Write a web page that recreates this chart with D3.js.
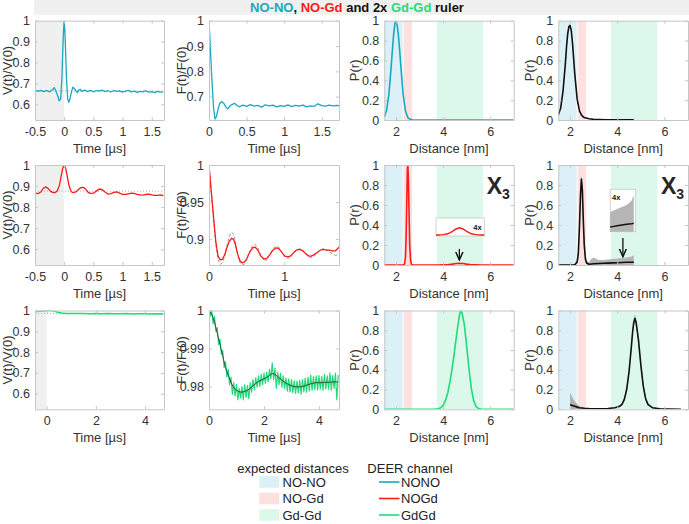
<!DOCTYPE html>
<html><head><meta charset="utf-8">
<script src="https://cdn.jsdelivr.net/npm/d3@7"></script>
<style>body{margin:0;background:#fff;} svg text{font-family:"Liberation Sans",Arial,sans-serif;}</style>
</head><body><svg id="c" width="689" height="524"></svg>
<script>
// ---------------- DATA ----------------
const channelNames = ["NONO","NOGd","GdGd"];
const channelColors = ["#17a9c1","#ff1a1a","#1fdc78"];
const bandNames = ["NO-NO","NO-Gd","Gd-Gd"];
const bandLo = [1.5, 2.32, 3.73];
const bandHi = [2.28, 2.68, 5.7];
const bandColors = ["#dcf1f7","#fde0e0","#dcf8ea"];
const vBaseline = [0.664, 0.876, 0.985];

// NONO V(t)
const tV1 = [-0.5,-0.45,-0.4,-0.35,-0.3,-0.25,-0.2,-0.17,-0.14,-0.11,-0.085,-0.06,-0.04,-0.025,-0.01,0,0.01,0.025,0.04,0.06,0.08,0.1,0.125,0.15,0.175,0.2,0.225,0.25,0.275,0.3,0.35,0.4,0.45,0.5,0.55,0.6,0.65,0.7,0.75,0.8,0.85,0.9,0.95,1.0,1.05,1.1,1.15,1.2,1.25,1.3,1.35,1.4,1.45,1.5,1.55,1.6,1.65,1.7];
const vV1 = [0.668,0.662,0.667,0.661,0.666,0.660,0.670,0.680,0.662,0.640,0.617,0.625,0.72,0.85,0.96,1.0,0.96,0.85,0.72,0.625,0.610,0.628,0.66,0.682,0.676,0.664,0.656,0.668,0.672,0.662,0.668,0.661,0.667,0.660,0.666,0.663,0.668,0.661,0.665,0.659,0.666,0.662,0.664,0.658,0.663,0.667,0.659,0.663,0.657,0.662,0.66,0.665,0.658,0.661,0.656,0.662,0.658,0.660];
// NONO F(t)
const tF1 = [0,0.02,0.04,0.06,0.08,0.1,0.12,0.14,0.17,0.2,0.225,0.25,0.275,0.3,0.34,0.37,0.4,0.45,0.5,0.55,0.6,0.65,0.7,0.75,0.8,0.85,0.9,0.95,1.0,1.05,1.1,1.15,1.2,1.25,1.3,1.35,1.4,1.45,1.5,1.55,1.6,1.65,1.7,1.73];
const vF1 = [1.0,0.88,0.76,0.66,0.612,0.622,0.65,0.672,0.681,0.672,0.66,0.652,0.662,0.668,0.674,0.666,0.660,0.667,0.662,0.669,0.663,0.666,0.659,0.668,0.664,0.667,0.660,0.665,0.662,0.668,0.661,0.666,0.663,0.667,0.660,0.664,0.662,0.672,0.665,0.663,0.667,0.664,0.666,0.665];
// NOGd V(t)
const tV2 = [-0.5,-0.45,-0.4,-0.36,-0.32,-0.28,-0.24,-0.2,-0.16,-0.12,-0.08,-0.05,-0.025,0,0.025,0.05,0.08,0.12,0.155,0.2,0.24,0.28,0.325,0.37,0.41,0.45,0.5,0.55,0.6,0.65,0.7,0.75,0.8,0.85,0.9,0.95,1.0,1.05,1.1,1.15,1.2,1.25,1.3,1.35,1.4,1.45,1.5,1.55,1.6,1.65,1.7];
const vV2 = [0.866,0.864,0.872,0.888,0.896,0.890,0.877,0.870,0.869,0.876,0.905,0.95,0.985,1.0,0.985,0.95,0.905,0.873,0.869,0.872,0.883,0.892,0.894,0.885,0.870,0.865,0.866,0.876,0.886,0.883,0.872,0.862,0.864,0.870,0.872,0.866,0.86,0.86,0.863,0.866,0.865,0.86,0.858,0.857,0.86,0.862,0.858,0.856,0.856,0.858,0.854];
// NOGd F(t) and fit
const tF2 = [0,0.03,0.06,0.09,0.12,0.15,0.18,0.21,0.24,0.27,0.3,0.325,0.35,0.38,0.41,0.44,0.47,0.5,0.54,0.58,0.615,0.65,0.69,0.73,0.77,0.81,0.85,0.89,0.93,0.97,1.01,1.05,1.08,1.12,1.16,1.21,1.25,1.29,1.33,1.36,1.4,1.44,1.48,1.52,1.56,1.6,1.64,1.68,1.72,1.73];
const vF2 = [1.0,0.965,0.93,0.897,0.877,0.872,0.873,0.879,0.889,0.897,0.901,0.900,0.893,0.880,0.871,0.868,0.869,0.873,0.882,0.888,0.889,0.885,0.877,0.873,0.874,0.879,0.885,0.888,0.887,0.882,0.877,0.876,0.877,0.881,0.885,0.886,0.884,0.880,0.877,0.877,0.879,0.882,0.885,0.886,0.885,0.885,0.884,0.884,0.888,0.889];
const fitF2 = [1.0,0.963,0.927,0.893,0.872,0.866,0.868,0.877,0.892,0.904,0.909,0.907,0.897,0.880,0.869,0.865,0.866,0.871,0.883,0.891,0.893,0.888,0.878,0.871,0.872,0.879,0.887,0.890,0.889,0.882,0.876,0.874,0.875,0.880,0.885,0.887,0.885,0.880,0.876,0.875,0.877,0.881,0.885,0.887,0.886,0.883,0.880,0.878,0.879,0.880];
// GdGd V(t)
const tV3 = [-0.48,-0.3,-0.15,0,0.1,0.2,0.3,0.45,0.6,0.8,1.0,1.25,1.5,1.75,2.0,2.25,2.5,2.75,3.0,3.25,3.5,3.75,4.0,4.25,4.5,4.75];
const vV3 = [0.994,0.996,0.998,1.0,1.001,1.0,0.997,0.992,0.988,0.986,0.985,0.986,0.985,0.984,0.985,0.984,0.985,0.984,0.984,0.985,0.983,0.984,0.984,0.983,0.984,0.983];
// GdGd F(t) data and fit
const tF3 = [0,0.05,0.1,0.15,0.2,0.25,0.3,0.35,0.4,0.45,0.5,0.55,0.6,0.65,0.7,0.75,0.8,0.85,0.9,0.95,1,1.05,1.1,1.15,1.2,1.25,1.3,1.35,1.4,1.45,1.5,1.55,1.6,1.65,1.7,1.75,1.8,1.85,1.9,1.95,2,2.05,2.1,2.15,2.2,2.25,2.3,2.35,2.4,2.45,2.5,2.55,2.6,2.65,2.7,2.75,2.8,2.85,2.9,2.95,3,3.05,3.1,3.15,3.2,3.25,3.3,3.35,3.4,3.45,3.5,3.55,3.6,3.65,3.7,3.75,3.8,3.85,3.9,3.95,4,4.05,4.1,4.15,4.2,4.25,4.3,4.35,4.4,4.45,4.5,4.55,4.6,4.65,4.7];
const vF3 = [1.0005,0.9985,1.0,0.9965,0.9985,0.9945,0.9955,0.991,0.9925,0.9885,0.9895,0.985,0.9865,0.9825,0.9845,0.9805,0.9825,0.978,0.981,0.9775,0.9805,0.9765,0.9795,0.977,0.98,0.9765,0.9805,0.9772,0.9803,0.9768,0.981,0.9785,0.9818,0.9792,0.9823,0.9798,0.9828,0.98,0.9832,0.9805,0.9835,0.9808,0.9838,0.9812,0.9845,0.982,0.9862,0.9818,0.9848,0.9795,0.9838,0.9805,0.9835,0.9798,0.9828,0.9795,0.9822,0.9788,0.982,0.9786,0.9818,0.9784,0.9815,0.9782,0.9814,0.9783,0.9816,0.978,0.9818,0.9786,0.9822,0.9785,0.9825,0.9788,0.983,0.979,0.9826,0.9792,0.9828,0.9791,0.9829,0.9793,0.9826,0.979,0.9832,0.9794,0.9828,0.9793,0.9836,0.979,0.9829,0.9795,0.9835,0.9765,0.983];
const tFit3 = [0,0.1,0.2,0.3,0.4,0.5,0.6,0.7,0.8,0.9,1.0,1.1,1.2,1.3,1.4,1.5,1.6,1.7,1.8,1.9,2.0,2.1,2.2,2.3,2.4,2.5,2.6,2.7,2.8,2.9,3.0,3.1,3.2,3.3,3.4,3.5,3.6,3.7,3.8,3.9,4.0,4.1,4.2,4.3,4.4,4.5,4.6,4.7];
const fitF3 = [1.0,0.999,0.997,0.994,0.991,0.988,0.985,0.983,0.981,0.9797,0.979,0.9786,0.9785,0.9787,0.979,0.9795,0.9802,0.9808,0.9813,0.9817,0.982,0.9824,0.9829,0.9834,0.9832,0.9826,0.982,0.9814,0.9809,0.9805,0.9802,0.98,0.9799,0.9799,0.98,0.9802,0.9805,0.9807,0.9809,0.981,0.981,0.981,0.9811,0.9811,0.9811,0.9812,0.9812,0.9812];

// P(r) – model channel
const rP1 = [1.5,1.6,1.7,1.8,1.85,1.9,1.95,2.0,2.05,2.1,2.15,2.2,2.3,2.4,2.5,2.6,2.7,2.8,3,4,5,6,7];
const pP1 = [0.03,0.1,0.27,0.56,0.72,0.87,0.97,0.995,0.95,0.85,0.71,0.55,0.26,0.09,0.025,0.006,0.001,0,0,0,0,0,0];
const rP2 = [1.5,2.3,2.36,2.4,2.43,2.46,2.48,2.5,2.52,2.55,2.58,2.62,2.66,2.7,3.8,4.0,4.2,4.4,4.55,4.7,4.85,5.0,5.2,5.4,5.6,7];
const pP2 = [0,0,0.01,0.08,0.3,0.7,0.95,1.0,0.9,0.55,0.2,0.04,0.005,0,0,0.001,0.003,0.009,0.015,0.018,0.015,0.009,0.003,0.001,0,0];
const rP3 = [1.5,3.6,3.8,3.9,4.0,4.1,4.2,4.3,4.4,4.5,4.6,4.7,4.75,4.8,4.9,5.0,5.1,5.2,5.3,5.4,5.5,5.6,5.8,7];
const pP3 = [0,0,0.005,0.015,0.04,0.09,0.17,0.29,0.44,0.62,0.8,0.96,1.0,0.98,0.86,0.64,0.41,0.21,0.085,0.028,0.008,0.002,0,0];
// P(r) – DEER analysis (black) with confidence bands
const rQ1 = [1.5,1.6,1.7,1.8,1.85,1.9,1.95,2.0,2.05,2.1,2.15,2.2,2.3,2.4,2.5,2.6,2.8,3.0,3.5,4.0,4.7];
const pQ1 = [0.05,0.12,0.29,0.57,0.74,0.87,0.94,0.95,0.9,0.78,0.62,0.46,0.21,0.09,0.045,0.025,0.012,0.007,0.003,0.002,0.001];
const loQ1 = [0.04,0.11,0.27,0.55,0.72,0.85,0.92,0.93,0.88,0.76,0.6,0.44,0.2,0.08,0.04,0.02,0.01,0.005,0.002,0.001,0];
const hiQ1 = [0.06,0.13,0.31,0.59,0.76,0.89,0.96,0.97,0.92,0.8,0.64,0.48,0.22,0.1,0.05,0.03,0.014,0.009,0.004,0.003,0.002];
const rQ2 = [1.5,2.2,2.3,2.35,2.4,2.44,2.48,2.52,2.56,2.6,2.65,2.7,2.8,2.9,3.0,3.2,3.4,3.6,3.8,4.0,4.2,4.4,4.6,4.7];
const pQ2 = [0,0.002,0.03,0.12,0.4,0.7,0.86,0.75,0.45,0.2,0.06,0.02,0.008,0.01,0.012,0.015,0.017,0.019,0.021,0.023,0.025,0.027,0.028,0.029];
const loQ2 = [0,0,0.01,0.08,0.33,0.62,0.8,0.68,0.38,0.15,0.03,0.005,0,0,0,0,0,0,0,0,0,0,0,0];
const hiQ2 = [0.003,0.01,0.06,0.17,0.47,0.77,0.9,0.82,0.52,0.26,0.1,0.04,0.03,0.06,0.075,0.05,0.05,0.055,0.06,0.065,0.07,0.075,0.085,0.1];
const rQ3 = [2.0,2.1,2.2,2.3,2.4,2.6,2.8,3.0,3.3,3.6,3.9,4.1,4.2,4.3,4.4,4.5,4.6,4.65,4.7,4.75,4.8,4.9,5.0,5.1,5.2,5.3,5.5,5.8,6.2,6.7];
const pQ3 = [0.045,0.038,0.03,0.022,0.016,0.01,0.007,0.006,0.006,0.008,0.015,0.03,0.05,0.1,0.2,0.38,0.64,0.78,0.88,0.92,0.88,0.7,0.45,0.24,0.11,0.05,0.015,0.005,0.002,0];
const loQ3 = [0,0,0,0,0.005,0.005,0.004,0.003,0.003,0.005,0.01,0.02,0.04,0.08,0.17,0.34,0.6,0.74,0.84,0.88,0.84,0.66,0.41,0.21,0.09,0.04,0.01,0.003,0.001,0];
const hiQ3 = [0.17,0.12,0.08,0.05,0.03,0.015,0.01,0.008,0.008,0.011,0.02,0.04,0.06,0.12,0.23,0.42,0.68,0.82,0.92,0.96,0.92,0.74,0.49,0.27,0.13,0.06,0.02,0.007,0.003,0.001];

// tick values and labels
const tickT1 = [-0.5,0,0.5,1,1.5], tickT1L = ["-0.5","0","0.5","1","1.5"];
const tickT2 = [0,0.5,1,1.5], tickT2L = ["0","0.5","1","1.5"];
const tickT2b = [0,1], tickT2bL = ["0","1"];
const tickT3 = [0,2,4], tickT3L = ["0","2","4"];
const tickV = [0.6,0.7,0.8,0.9,1], tickVL = ["0.6","0.7","0.8","0.9","1"];
const tickF1 = [0.7,0.8,0.9,1], tickF1L = ["0.7","0.8","0.9","1"];
const tickF2 = [0.9,0.95,1], tickF2L = ["0.9","0.95","1"];
const tickF3 = [0.98,0.99,1], tickF3L = ["0.98","0.99","1"];
const tickR = [2,4,6], tickRL = ["2","4","6"];
const tickP = [0,0.2,0.4,0.6,0.8,1], tickPL = ["0","0.2","0.4","0.6","0.8","1"];

// ---------------- DRAWING ----------------
const svg = d3.select("#c");
const cols = [[35,164],[209,339],[384.3,513.7],[558.3,688]];
const rows = [[20.7,120],[165,265],[310.5,409.3]];
const AX = "#c6c6c6", TX = "#333333";
let clipN = 0;

function panel(ci, ri, o){
  const [x0,x1]=cols[ci],[y0,y1]=rows[ri];
  const x=d3.scaleLinear().domain(o.xd).range([x0,x1]);
  const y=d3.scaleLinear().domain(o.yd).range([y1,y0]);
  const id="clip"+(clipN++);
  svg.append("clipPath").attr("id",id).append("rect").attr("x",x0).attr("y",y0).attr("width",x1-x0).attr("height",y1-y0);
  const g=svg.append("g");
  const plot=g.append("g").attr("clip-path",`url(#${id})`);
  return {x,y,g,plot,x0,x1,y0,y1,o,ci};
}
function styleAxis(sel){
  sel.attr("font-family",null).attr("font-size",null);
  sel.selectAll("path.domain").attr("stroke",AX);
  sel.selectAll(".tick line").attr("stroke",AX);
  sel.selectAll(".tick text").attr("fill",TX).style("font-size","12.5px");
}
function axes(p, ylabOff){
  const {x,y,g,x0,x1,y0,y1,o}=p;
  g.append("g").attr("transform",`translate(0,${y1})`)
    .call(d3.axisBottom(x).tickValues(o.xt).tickFormat((d,i)=>o.xl[i]).tickSizeInner(-3).tickSizeOuter(0).tickPadding(7)).call(styleAxis);
  g.append("g").attr("transform",`translate(0,${y0})`)
    .call(d3.axisTop(x).tickValues(o.xt).tickFormat("").tickSizeInner(-3).tickSizeOuter(0)).call(styleAxis);
  g.append("g").attr("transform",`translate(${x0},0)`)
    .call(d3.axisLeft(y).tickValues(o.yt).tickFormat((d,i)=>o.yl[i]).tickSizeInner(-3).tickSizeOuter(0).tickPadding(5)).call(styleAxis);
  g.append("g").attr("transform",`translate(${x1},0)`)
    .call(d3.axisRight(y).tickValues(o.yt).tickFormat("").tickSizeInner(-3).tickSizeOuter(0)).call(styleAxis);
  g.append("text").attr("x",(x0+x1)/2).attr("y",y1+33).attr("text-anchor","middle")
    .attr("fill",TX).style("font-size","13px").text(o.xlab);
  g.append("text").attr("transform",`translate(${x0-ylabOff},${(y0+y1)/2}) rotate(-90)`).attr("text-anchor","middle")
    .attr("fill",TX).style("font-size","13px").text(o.ylab);
}
function line(p, xs, ys, color, w, dash){
  const l=d3.line().x((d,i)=>p.x(xs[i])).y((d,i)=>p.y(ys[i]));
  const path=p.plot.append("path").datum(xs).attr("d",l).attr("fill","none").attr("stroke",color)
    .attr("stroke-width",w).attr("stroke-linejoin","round");
  if(dash) path.attr("stroke-dasharray",dash);
  return path;
}
function band(p, xs, lo, hi, color){
  const a=d3.area().x((d,i)=>p.x(xs[i])).y0((d,i)=>p.y(lo[i])).y1((d,i)=>p.y(hi[i]));
  p.plot.append("path").datum(xs).attr("d",a).attr("fill",color).attr("stroke","none");
}
function vpanelDeco(p, ri){
  p.plot.append("rect").attr("x",p.x0).attr("y",p.y0).attr("width",p.x(0)-p.x0).attr("height",p.y1-p.y0).attr("fill","#f0f0f0");
  p.plot.append("line").attr("x1",p.x0).attr("x2",p.x1).attr("y1",p.y(vBaseline[ri])).attr("y2",p.y(vBaseline[ri]))
    .attr("stroke","#9a9a9a").attr("stroke-width",0.8).attr("stroke-dasharray","1,2");
}
function rpanelDeco(p){
  bandNames.forEach((n,i)=>{
    p.plot.append("rect").attr("x",p.x(bandLo[i])).attr("width",p.x(bandHi[i])-p.x(bandLo[i]))
      .attr("y",p.y0).attr("height",p.y1-p.y0).attr("fill",bandColors[i]);
  });
}
function x3(p){
  const t=p.g.append("text").attr("x",p.x1-27).attr("y",p.y0+29).attr("fill","#262626").style("font-weight","bold");
  t.append("tspan").style("font-size","23px").text("X");
  t.append("tspan").style("font-size","14px").attr("dy",5).text("3");
}
// arrow marker
const defs=svg.append("defs");
defs.append("marker").attr("id","arr").attr("viewBox","0 0 10 10").attr("refX",9).attr("refY",5)
  .attr("markerWidth",7).attr("markerHeight",7).attr("orient","auto")
  .append("path").attr("d","M0,1 L9,5 L0,9").attr("fill","none").attr("stroke","#111").attr("stroke-width",1.6);
function arrow(p, r, pa, pb){
  p.g.append("line").attr("x1",p.x(r)).attr("x2",p.x(r)).attr("y1",p.y(pa)).attr("y2",p.y(pb))
    .attr("stroke","#111").attr("stroke-width",1.3).attr("marker-end","url(#arr)");
}

// title bar
svg.append("rect").attr("x",34).attr("y",0).attr("width",655).attr("height",14.7).attr("fill","#f0f0f0");
const title=svg.append("text").attr("x",357).attr("y",12).attr("text-anchor","middle").style("font-size","13px").style("font-weight","bold").attr("fill","#111");
[["NO-NO",channelColors[0]],[", ","#111"],["NO-Gd",channelColors[1]],[" and 2x ","#111"],["Gd-Gd",channelColors[2]],[" ruler","#111"]]
  .forEach(([s,c])=>title.append("tspan").attr("fill",c).text(s));

// ---- Row 1 ----
let p;
p=panel(0,0,{xd:[-0.5,1.71],yd:[0.525,1],xt:tickT1,xl:tickT1L,yt:tickV,yl:tickVL,xlab:"Time [µs]",ylab:"V(t)/V(0)"});
vpanelDeco(p,0); line(p,tV1,vV1,channelColors[0],1.3); axes(p,23.5);
p=panel(1,0,{xd:[0,1.73],yd:[0.608,1],xt:tickT2,xl:tickT2L,yt:tickF1,yl:tickF1L,xlab:"Time [µs]",ylab:"F(t)/F(0)"});
line(p,tF1,vF1,channelColors[0],1.3); axes(p,23.5);
p=panel(2,0,{xd:[1.5,7],yd:[0,1],xt:tickR,xl:tickRL,yt:tickP,yl:tickPL,xlab:"Distance [nm]",ylab:"P(r)"});
rpanelDeco(p); line(p,rP1,pP1,channelColors[0],1.6); axes(p,25.3);
p=panel(3,0,{xd:[1.5,7],yd:[0,1],xt:tickR,xl:tickRL,yt:tickP,yl:tickPL,xlab:"Distance [nm]",ylab:"P(r)"});
rpanelDeco(p); band(p,rQ1,loQ1,hiQ1,"#b0b0b0"); line(p,rQ1,pQ1,"#111",1.6); axes(p,24.3);

// ---- Row 2 ----
p=panel(0,1,{xd:[-0.5,1.71],yd:[0.525,1],xt:tickT1,xl:tickT1L,yt:tickV,yl:tickVL,xlab:"Time [µs]",ylab:"V(t)/V(0)"});
vpanelDeco(p,1); line(p,tV2,vV2,channelColors[1],1.3); axes(p,23.5);
p=panel(1,1,{xd:[0,1.73],yd:[0.865,1],xt:tickT2b,xl:tickT2bL,yt:tickF2,yl:tickF2L,xlab:"Time [µs]",ylab:"F(t)/F(0)"});
line(p,tF2,fitF2,"#9a9a9a",1,"3,2"); line(p,tF2,vF2,channelColors[1],1.3); axes(p,23.5);
p=panel(2,1,{xd:[1.5,7],yd:[0,1],xt:tickR,xl:tickRL,yt:tickP,yl:tickPL,xlab:"Distance [nm]",ylab:"P(r)"});
rpanelDeco(p); line(p,rP2,pP2,channelColors[1],1.6); axes(p,25.3);
{ // inset 4x
  const bx0=p.x(3.7), bx1=p.x(5.75), by0=p.y(0.47), by1=p.y(0.29);
  p.g.append("rect").attr("x",bx0).attr("y",by0).attr("width",bx1-bx0).attr("height",by1-by0).attr("fill","#fff").attr("stroke","#c8c8c8").attr("stroke-width",0.8);
  svg.append("clipPath").attr("id","ins1").append("rect").attr("x",bx0).attr("y",by0).attr("width",bx1-bx0).attr("height",by1-by0);
  const ig=p.g.append("g").attr("clip-path","url(#ins1)");
  const il=d3.line().x((d,i)=>p.x(rP2[i])).y((d,i)=>p.y(0.30+4*pP2[i]));
  ig.append("path").datum(rP2).attr("d",il).attr("fill","none").attr("stroke",channelColors[1]).attr("stroke-width",1.4);
  p.g.append("text").attr("x",p.x(5.46)).attr("y",p.y(0.35)).attr("text-anchor","middle").style("font-size","7.5px").style("font-weight","bold").attr("fill","#111").text("4x");
  arrow(p,4.69,0.16,0.05);
}
x3(p);
p=panel(3,1,{xd:[1.5,7],yd:[0,1],xt:tickR,xl:tickRL,yt:tickP,yl:tickPL,xlab:"Distance [nm]",ylab:"P(r)"});
rpanelDeco(p); band(p,rQ2,loQ2,hiQ2,"#b5b5b5"); line(p,rQ2,pQ2,"#111",1.6); axes(p,24.3);
{
  const bx0=p.x(3.7), bx1=p.x(4.78), by0=p.y(0.757), by1=p.y(0.333);
  p.g.append("rect").attr("x",bx0).attr("y",by0).attr("width",bx1-bx0).attr("height",by1-by0).attr("fill","#fff").attr("stroke","#c8c8c8").attr("stroke-width",0.8);
  svg.append("clipPath").attr("id","ins2").append("rect").attr("x",bx0).attr("y",by0).attr("width",bx1-bx0).attr("height",by1-by0);
  const ig=p.g.append("g").attr("clip-path","url(#ins2)");
  const ia=d3.area().x((d,i)=>p.x(rQ2[i])).y0((d,i)=>p.y(0.30+4*loQ2[i])).y1((d,i)=>p.y(0.30+4*hiQ2[i]));
  ig.append("path").datum(rQ2).attr("d",ia).attr("fill","#b5b5b5");
  const il=d3.line().x((d,i)=>p.x(rQ2[i])).y((d,i)=>p.y(0.30+4*pQ2[i]));
  ig.append("path").datum(rQ2).attr("d",il).attr("fill","none").attr("stroke","#111").attr("stroke-width",1.4);
  p.g.append("text").attr("x",p.x(3.78)).attr("y",p.y(0.655)).style("font-size","7.5px").style("font-weight","bold").attr("fill","#111").text("4x");
  arrow(p,4.24,0.27,0.083);
}
x3(p);

// ---- Row 3 ----
p=panel(0,2,{xd:[-0.475,4.77],yd:[0.525,1],xt:tickT3,xl:tickT3L,yt:tickV,yl:tickVL,xlab:"Time [µs]",ylab:"V(t)/V(0)"});
vpanelDeco(p,2); line(p,tV3,vV3,channelColors[2],1.5); axes(p,23.5);
p=panel(1,2,{xd:[0,4.73],yd:[0.974,1],xt:tickT3,xl:tickT3L,yt:tickF3,yl:tickF3L,xlab:"Time [µs]",ylab:"F(t)/F(0)"});
line(p,tF3,vF3,channelColors[2],1.2); line(p,tFit3,fitF3,"#3a3a3a",0.9); axes(p,23.5);
p=panel(2,2,{xd:[1.5,7],yd:[0,1],xt:tickR,xl:tickRL,yt:tickP,yl:tickPL,xlab:"Distance [nm]",ylab:"P(r)"});
rpanelDeco(p); line(p,rP3,pP3,channelColors[2],1.6); axes(p,25.3);
p=panel(3,2,{xd:[1.5,7],yd:[0,1],xt:tickR,xl:tickRL,yt:tickP,yl:tickPL,xlab:"Distance [nm]",ylab:"P(r)"});
rpanelDeco(p); band(p,rQ3,loQ3,hiQ3,"#b0b0b0"); line(p,rQ3,pQ3,"#111",1.6); axes(p,24.3);

// ---- Legend ----
const lg=svg.append("g");
lg.append("text").attr("x",293).attr("y",472.5).attr("text-anchor","middle").attr("fill","#222").style("font-size","13px").text("expected distances");
lg.append("text").attr("x",410).attr("y",472.5).attr("text-anchor","middle").attr("fill","#222").style("font-size","13px").text("DEER channel");
const rowY=[482,498.5,515];
bandNames.forEach((n,i)=>{
  lg.append("rect").attr("x",259.3).attr("y",rowY[i]-5.8).attr("width",20).attr("height",11.6).attr("fill",bandColors[i]);
  lg.append("text").attr("x",282.5).attr("y",rowY[i]+4.6).attr("fill","#222").style("font-size","13px").text(n);
});
channelNames.forEach((n,i)=>{
  lg.append("line").attr("x1",379).attr("x2",399.5).attr("y1",rowY[i]).attr("y2",rowY[i]).attr("stroke",channelColors[i]).attr("stroke-width",1.6);
  lg.append("text").attr("x",401).attr("y",rowY[i]+4.6).attr("fill","#222").style("font-size","13px").text(n);
});
</script></body></html>
